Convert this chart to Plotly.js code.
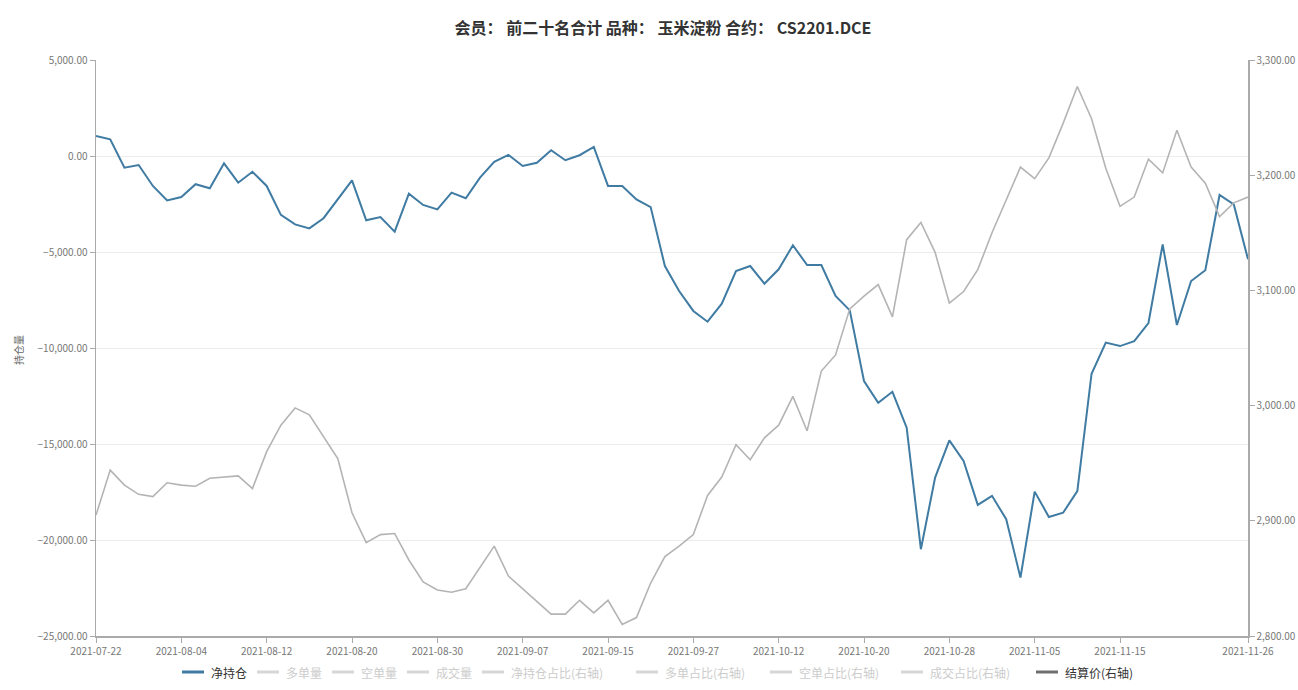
<!DOCTYPE html>
<html>
<head>
<meta charset="utf-8">
<script src="https://cdn.plot.ly/plotly-3.0.1.min.js"></script>
<style>
html,body{margin:0;padding:0;background:#fff;}
#chart{width:1298px;height:690px;}
</style>
</head>
<body>
<div id="chart"></div>
<script>
// ---- data ----
const dates = ["2021-07-22","2021-07-23","2021-07-26","2021-07-27","2021-07-29","2021-08-02","2021-08-04","2021-08-05","2021-08-06","2021-08-09","2021-08-10","2021-08-11","2021-08-12","2021-08-13","2021-08-16","2021-08-17","2021-08-18","2021-08-19","2021-08-20","2021-08-23","2021-08-24","2021-08-25","2021-08-26","2021-08-27","2021-08-30","2021-08-31","2021-09-01","2021-09-02","2021-09-03","2021-09-06","2021-09-07","2021-09-08","2021-09-09","2021-09-10","2021-09-13","2021-09-14","2021-09-15","2021-09-16","2021-09-17","2021-09-22","2021-09-23","2021-09-24","2021-09-27","2021-09-28","2021-09-29","2021-09-30","2021-10-08","2021-10-11","2021-10-12","2021-10-13","2021-10-14","2021-10-15","2021-10-18","2021-10-19","2021-10-20","2021-10-21","2021-10-22","2021-10-25","2021-10-26","2021-10-27","2021-10-28","2021-10-29","2021-11-01","2021-11-02","2021-11-03","2021-11-04","2021-11-05","2021-11-08","2021-11-09","2021-11-10","2021-11-11","2021-11-12","2021-11-15","2021-11-16","2021-11-17","2021-11-18","2021-11-19","2021-11-22","2021-11-23","2021-11-24","2021-11-25","2021-11-26"];

const netPosition = [1040,870,-610,-470,-1560,-2310,-2140,-1470,-1680,-380,-1390,-820,-1560,-3070,-3560,-3770,-3240,-2260,-1270,-3350,-3180,-3940,-1960,-2550,-2780,-1910,-2200,-1130,-300,60,-520,-350,300,-220,40,470,-1560,-1560,-2260,-2660,-5730,-7030,-8070,-8630,-7690,-5990,-5730,-6650,-5900,-4650,-5680,-5680,-7290,-8040,-11720,-12850,-12280,-14150,-20480,-16750,-14810,-15880,-18170,-17700,-18920,-21960,-17480,-18800,-18580,-17450,-11340,-9720,-9900,-9640,-8700,-4600,-8800,-6510,-5950,-2030,-2520,-5380];

const settlePrice = [2905,2944,2931,2923,2921,2933,2931,2930,2937,2938,2939,2928,2960,2983,2998,2992,2973,2954,2907,2881,2888,2889,2866,2847,2840,2838,2841,2859,2878,2852,2841,2830,2819,2819,2831,2820,2831,2810,2816,2846,2869,2878,2888,2922,2938,2966,2953,2972,2983,3008,2978,3030,3044,3084,3095,3105,3077,3144,3159,3133,3089,3099,3118,3150,3179,3207,3197,3215,3245,3277,3249,3206,3173,3181,3214,3202,3239,3207,3193,3164,3176,3181];

const tickDates = ["2021-07-22","2021-08-04","2021-08-12","2021-08-20","2021-08-30","2021-09-07","2021-09-15","2021-09-27","2021-10-12","2021-10-20","2021-10-28","2021-11-05","2021-11-15","2021-11-26"];

const legendNames = ["净持仓","多单量","空单量","成交量","净持仓占比(右轴)","多单占比(右轴)","空单占比(右轴)","成交占比(右轴)","结算价(右轴)"];
const legendActive = [true,false,false,false,false,false,false,false,true];

const titleText = "会员： 前二十名合计 品种： 玉米淀粉 合约： CS2201.DCE";
const yTitle = "持仓量";

// ---- styles ----
const FONT = '"Noto Sans CJK SC", "Noto Sans", sans-serif';
const BLUE = '#3f7ba2';
const GREY = '#b4b4b4';
const W = 1298, H = 690, ML = 96, MR = 50, MT = 60, MB = 54;
const PW = W - ML - MR, PH = H - MT - MB;
const px = X => (X - ML) / PW;
const py = Y => (H - MB - Y) / PH;

const traces = [
  {x: dates, y: netPosition, type: 'scatter', mode: 'lines', name: legendNames[0],
   line: {color: BLUE, width: 2}, yaxis: 'y', hoverinfo: 'skip'},
  {x: dates, y: settlePrice, type: 'scatter', mode: 'lines', name: legendNames[8],
   line: {color: GREY, width: 1.6}, yaxis: 'y2', hoverinfo: 'skip'}
];

// legend drawn as annotations + line shapes
const legendIconX = [182,257,332,407,482,636,770,901,1036];
const legendColors = [BLUE,'#d6d6d6','#d6d6d6','#d6d6d6','#d6d6d6','#d6d6d6','#d6d6d6','#d6d6d6','#6f6f6f'];
const LEG_Y = 672;
const shapes = [], annotations = [];
legendNames.forEach((n, i) => {
  const x0 = legendIconX[i];
  shapes.push({type: 'line', xref: 'paper', yref: 'paper',
    x0: px(x0), x1: px(x0 + 22), y0: py(LEG_Y), y1: py(LEG_Y),
    line: {color: legendColors[i], width: 3}});
  annotations.push({xref: 'paper', yref: 'paper', x: px(x0 + 27), y: py(LEG_Y),
    xanchor: 'left', yanchor: 'middle', showarrow: false, text: n,
    font: {family: FONT, size: 12, color: legendActive[i] ? '#333' : '#ccc'}});
});
annotations.push({xref: 'paper', yref: 'paper', x: px(18), y: py(350),
  xanchor: 'center', yanchor: 'middle', showarrow: false, text: yTitle, textangle: -90,
  font: {family: FONT, size: 10, color: '#666'}});

const layout = {
  width: W, height: H,
  margin: {l: ML, r: MR, t: MT, b: MB, pad: 0},
  paper_bgcolor: '#fff', plot_bgcolor: '#fff',
  showlegend: false,
  title: {text: titleText, x: px(663), xref: 'paper', xanchor: 'center', y: 1 - 28 / H, yanchor: 'middle',
          font: {family: FONT, size: 16, color: '#333', weight: 'bold'}},
  xaxis: {type: 'category', range: [0, dates.length - 1], tickvals: tickDates, ticktext: tickDates,
          showgrid: false, zeroline: false, showline: true, linecolor: '#aaa', linewidth: 1.5,
          ticks: 'outside', ticklen: 5, tickcolor: '#aaa', tickwidth: 1,
          tickfont: {family: FONT, size: 10, color: '#777'}, tickangle: 0, automargin: false},
  yaxis: {range: [-25000, 5000], dtick: 5000, tick0: 0, tickformat: ',.2f',
          showgrid: true, gridcolor: '#ececec', gridwidth: 1, zeroline: false,
          showline: true, linecolor: '#aaa', linewidth: 1.5,
          ticks: 'outside', ticklen: 5, tickcolor: '#aaa',
          tickfont: {family: FONT, size: 10, color: '#777'}, automargin: false},
  yaxis2: {overlaying: 'y', side: 'right', range: [2800, 3300], dtick: 100, tick0: 2800, tickformat: ',.2f',
           showgrid: false, zeroline: false, showline: true, linecolor: '#aaa', linewidth: 1.5,
           ticks: 'outside', ticklen: 5, tickcolor: '#aaa',
           tickfont: {family: FONT, size: 10, color: '#777'}, automargin: false},
  shapes: shapes,
  annotations: annotations
};

Plotly.newPlot('chart', traces, layout, {displayModeBar: false, staticPlot: true});
</script>
</body>
</html>
